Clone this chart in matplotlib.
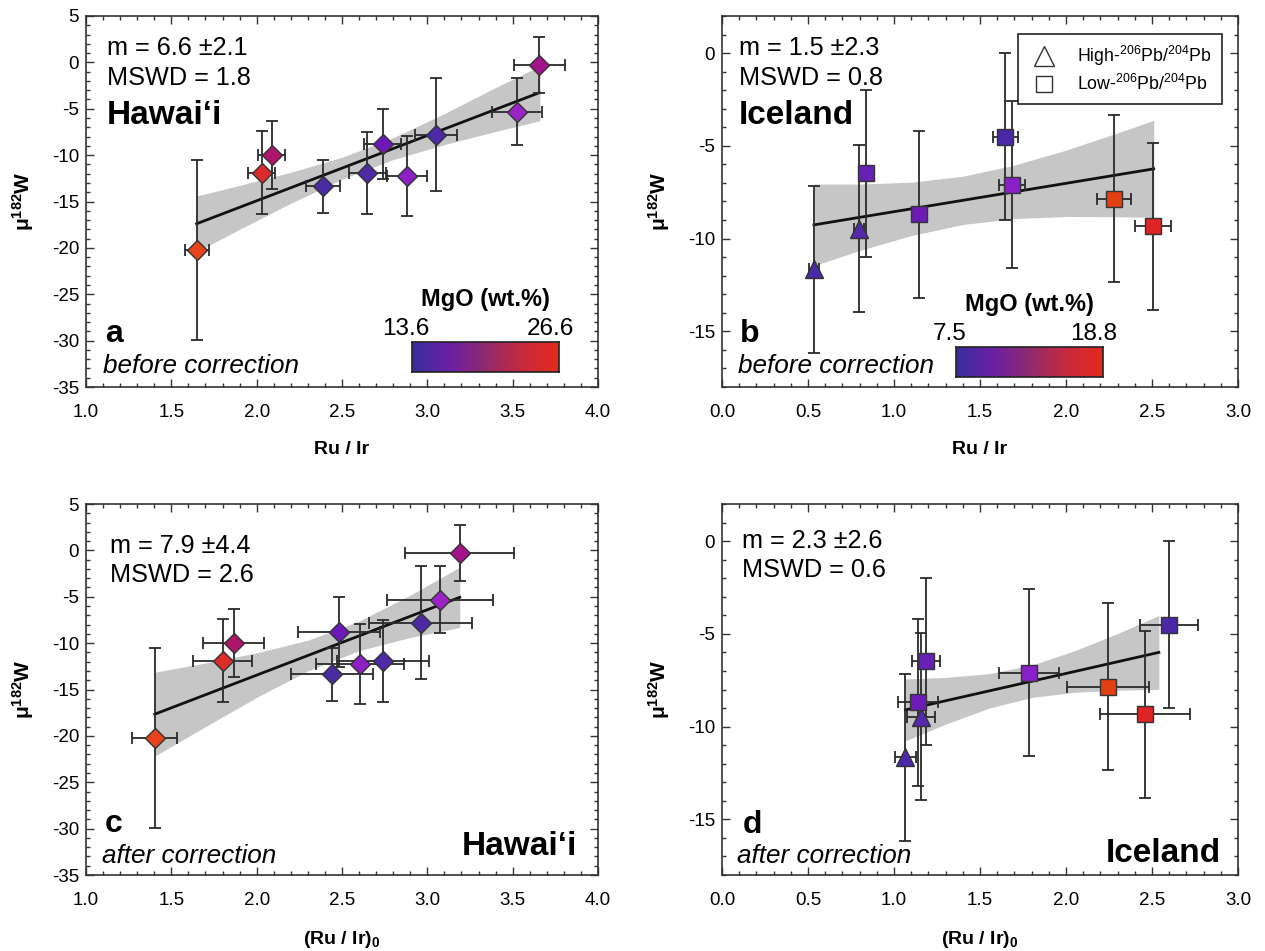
import matplotlib
matplotlib.use("Agg")
import matplotlib.pyplot as plt
from matplotlib.ticker import MultipleLocator
from matplotlib.lines import Line2D
from matplotlib.colors import LinearSegmentedColormap
import numpy as np

plt.rcParams['font.family'] = ['Liberation Sans', 'DejaVu Sans']
plt.rcParams['mathtext.fontset'] = 'custom'
plt.rcParams['mathtext.rm'] = 'Liberation Sans'
plt.rcParams['mathtext.bf'] = 'Liberation Sans:bold'
plt.rcParams['mathtext.it'] = 'Liberation Sans:italic'
plt.rcParams['axes.unicode_minus'] = False

# ---------------- data ----------------
# Hawai'i samples
hawaii_ru_ir = [1.648, 2.03, 2.088, 2.39, 2.648, 2.738, 2.879, 3.049, 3.523, 3.656]
hawaii_ru_ir_err = [0.07, 0.08, 0.08, 0.10, 0.107, 0.11, 0.117, 0.123, 0.146, 0.15]
hawaii_ru_ir0 = [1.403, 1.80, 1.865, 2.44, 2.738, 2.482, 2.605, 2.96, 3.073, 3.19]
hawaii_ru_ir0_err = [0.133, 0.173, 0.18, 0.24, 0.27, 0.24, 0.257, 0.30, 0.31, 0.32]
hawaii_mu = [-20.2, -11.9, -10.0, -13.35, -11.9, -8.8, -12.25, -7.8, -5.3, -0.3]
hawaii_mu_err = [9.7, 4.5, 3.7, 2.85, 4.4, 3.8, 4.3, 6.1, 3.6, 3.05]

# Iceland samples
iceland_group = ['High', 'High', 'Low', 'Low', 'Low', 'Low', 'Low', 'Low']
iceland_ru_ir = [0.535, 0.797, 0.84, 1.143, 1.646, 1.686, 2.28, 2.506]
iceland_ru_ir_err = [0.03, 0.03, 0.03, 0.03, 0.073, 0.073, 0.10, 0.104]
iceland_ru_ir0 = [1.066, 1.156, 1.185, 1.139, 2.60, 1.786, 2.245, 2.459]
iceland_ru_ir0_err = [0.06, 0.08, 0.083, 0.118, 0.17, 0.176, 0.24, 0.26]
iceland_mu = [-11.65, -9.48, -6.48, -8.69, -4.51, -7.1, -7.84, -9.33]
iceland_mu_err = [4.5, 4.5, 4.5, 4.5, 4.5, 4.5, 4.5, 4.5]

# regression lines and confidence envelopes
fit_a_x = [1.648, 3.656]
fit_a_y = [-17.4, -3.27]
band_a_x = [1.65, 1.9, 2.2, 2.5, 2.8, 3.1, 3.4, 3.66]
band_a_lo = [-20.4, -18.0, -15.19, -12.59, -10.48, -8.86, -7.45, -6.29]
band_a_hi = [-14.4, -13.26, -11.85, -10.23, -8.12, -5.52, -2.71, -0.4]

fit_b_x = [0.535, 2.51]
fit_b_y = [-9.26, -6.24]
band_b_x = [0.535, 0.8, 1.1, 1.4, 1.7, 2.0, 2.3, 2.51]
band_b_lo = [-11.46, -10.64, -9.84, -9.24, -8.92, -8.81, -8.82, -8.86]
band_b_hi = [-7.06, -7.06, -6.96, -6.64, -6.04, -5.23, -4.30, -3.62]

fit_c_x = [1.403, 3.19]
fit_c_y = [-17.66, -5.06]
band_c_x = [1.403, 1.7, 2.0, 2.3, 2.6, 2.9, 3.19]
band_c_lo = [-22.18, -19.00, -15.85, -12.99, -10.81, -9.39, -8.31]
band_c_hi = [-13.14, -12.14, -11.05, -9.69, -7.63, -4.83, -1.81]

fit_d_x = [1.066, 2.54]
fit_d_y = [-9.1, -6.0]
band_d_x = [1.066, 1.3, 1.55, 1.8, 2.05, 2.3, 2.54]
band_d_lo = [-10.77, -9.87, -9.01, -8.43, -8.15, -8.04, -7.99]
band_d_hi = [-7.43, -7.35, -7.15, -6.69, -5.91, -4.98, -4.01]

stats_a = ["m = 6.6 \u00b12.1", "MSWD = 1.8"]
stats_b = ["m = 1.5 \u00b12.3", "MSWD = 0.8"]
stats_c = ["m = 7.9 \u00b14.4", "MSWD = 2.6"]
stats_d = ["m = 2.3 \u00b12.6", "MSWD = 0.6"]

mgo_range_hawaii = ["13.6", "26.6"]
mgo_range_iceland = ["7.5", "18.8"]

# ---------------- styles ----------------
hawaii_colors = ['#e8431b', '#dc2b2b', '#b0156c', '#4a2ba3', '#4d2aa6',
                 '#6c19b8', '#8c20c4', '#4e29a6', '#9b22c4', '#a3138a']
iceland_colors = ['#4a2aa8', '#5529ac', '#6522b4', '#6a1cb4', '#4b28a8',
                  '#8a1ec8', '#e24012', '#de2424']
cmap = LinearSegmentedColormap.from_list(
    'mgo', ['#3a2e9e', '#6a1fa6', '#902a6e', '#c62a3e', '#e62a1c'])

W, H = 1265, 951
fig = plt.figure(figsize=(W / 100, H / 100), dpi=100)


def rect(l, t, r, b):
    return [l / W, 1 - b / H, (r - l) / W, (b - t) / H]


def ftext(x, y, s, **kw):
    fig.text(x / W, 1 - y / H, s, va='baseline', **kw)


ax_a = fig.add_axes(rect(86, 16, 598, 387))
ax_b = fig.add_axes(rect(722, 16, 1238, 387))
ax_c = fig.add_axes(rect(86, 504, 598, 875))
ax_d = fig.add_axes(rect(722, 504, 1238, 875))

EC = '#2a2a2a'


def style_axes(ax, xlim, ylim, xmajor, ymajor, xlabel):
    ax.set_xlim(*xlim)
    ax.set_ylim(*ylim)
    ax.xaxis.set_major_locator(MultipleLocator(xmajor))
    ax.xaxis.set_minor_locator(MultipleLocator(0.1))
    ax.yaxis.set_major_locator(MultipleLocator(ymajor))
    ax.yaxis.set_minor_locator(MultipleLocator(1))
    ax.tick_params(which='both', direction='in', top=True, right=True,
                   width=1.0, color='#333333')
    ax.tick_params(which='major', length=6, labelsize=13.5)
    ax.tick_params(which='minor', length=3)
    ax.tick_params(axis='x', which='major', pad=12)
    ax.tick_params(axis='y', which='major', pad=5)
    ax.xaxis.set_major_formatter(matplotlib.ticker.FormatStrFormatter('%.1f'))
    ax.yaxis.set_major_formatter(matplotlib.ticker.FormatStrFormatter('%d'))
    for sp in ax.spines.values():
        sp.set_linewidth(1.2)
        sp.set_color('#333333')
    ax.set_xlabel(xlabel, fontsize=14, fontweight='bold')
    ax.xaxis.set_label_coords(0.5, -0.145)
    ax.set_ylabel('\u03bc$^{\\mathbf{182}}$W', fontsize=15, fontweight='bold')
    ax.yaxis.set_label_coords(-0.097, 0.5)


def draw_panel(ax, x, xerr, y, yerr, colors, markers, fx, fy, bx, blo, bhi):
    ax.fill_between(bx, blo, bhi, color='#c6c6c6', lw=0, zorder=1)
    ax.plot(fx, fy, color='#111111', lw=2.0, zorder=3)
    ax.errorbar(x, y, xerr=xerr, yerr=yerr, fmt='none', ecolor=EC,
                elinewidth=1.3, capsize=4.5, capthick=1.3, zorder=4)
    for xi, yi, ci, mi in zip(x, y, colors, markers):
        sz = {'D': 10, 's': 11, '^': 13.5}[mi]
        ax.plot([xi], [yi], marker=mi, ms=sz, mfc=ci, mec='#333333',
                mew=1.0, ls='none', zorder=5)


hawaii_markers = ['D'] * len(hawaii_mu)
iceland_markers = ['^' if g == 'High' else 's' for g in iceland_group]

style_axes(ax_a, (1.0, 4.0), (-35, 5), 0.5, 5, 'Ru / Ir')
style_axes(ax_b, (0.0, 3.0), (-18, 2), 0.5, 5, 'Ru / Ir')
style_axes(ax_c, (1.0, 4.0), (-35, 5), 0.5, 5, '(Ru / Ir)$_\\mathbf{0}$')
style_axes(ax_d, (0.0, 3.0), (-18, 2), 0.5, 5, '(Ru / Ir)$_\\mathbf{0}$')

draw_panel(ax_a, hawaii_ru_ir, hawaii_ru_ir_err, hawaii_mu, hawaii_mu_err,
           hawaii_colors, hawaii_markers, fit_a_x, fit_a_y, band_a_x, band_a_lo, band_a_hi)
draw_panel(ax_b, iceland_ru_ir, iceland_ru_ir_err, iceland_mu, iceland_mu_err,
           iceland_colors, iceland_markers, fit_b_x, fit_b_y, band_b_x, band_b_lo, band_b_hi)
draw_panel(ax_c, hawaii_ru_ir0, hawaii_ru_ir0_err, hawaii_mu, hawaii_mu_err,
           hawaii_colors, hawaii_markers, fit_c_x, fit_c_y, band_c_x, band_c_lo, band_c_hi)
draw_panel(ax_d, iceland_ru_ir0, iceland_ru_ir0_err, iceland_mu, iceland_mu_err,
           iceland_colors, iceland_markers, fit_d_x, fit_d_y, band_d_x, band_d_lo, band_d_hi)

# ---------------- annotations ----------------
SF = 18.2
IF = 18.8
# panel a
ftext(107, 55, stats_a[0], fontsize=SF)
ftext(107, 85, stats_a[1], fontsize=SF)
ftext(107, 124, 'Hawai\u2018i', fontsize=24, fontweight='bold')
ftext(105, 342, 'a', fontsize=23, fontweight='bold')
ftext(103, 373, 'before correction', fontsize=IF, style='italic')
# panel b
ftext(739, 55, stats_b[0], fontsize=SF)
ftext(739, 85, stats_b[1], fontsize=SF)
ftext(739, 124, 'Iceland', fontsize=24, fontweight='bold')
ftext(740, 342, 'b', fontsize=23, fontweight='bold')
ftext(738, 373, 'before correction', fontsize=IF, style='italic')
# panel c
ftext(110, 553, stats_c[0], fontsize=SF)
ftext(110, 582, stats_c[1], fontsize=SF)
ftext(105, 832, 'c', fontsize=23, fontweight='bold')
ftext(102, 863, 'after correction', fontsize=IF, style='italic')
ftext(577, 855, 'Hawai\u2018i', fontsize=24, fontweight='bold', ha='right')
# panel d
ftext(742, 548, stats_d[0], fontsize=SF)
ftext(742, 577, stats_d[1], fontsize=SF)
ftext(743, 833, 'd', fontsize=23, fontweight='bold')
ftext(737, 863, 'after correction', fontsize=IF, style='italic')
ftext(1221, 862, 'Iceland', fontsize=24, fontweight='bold', ha='right')

# colour bars
gradient = np.linspace(0, 1, 256).reshape(1, -1)


def colorbar_box(l, t, r, b, labels):
    cax = fig.add_axes(rect(l, t, r, b))
    cax.imshow(gradient, aspect='auto', cmap=cmap, extent=(0, 1, 0, 1))
    cax.set_xticks([])
    cax.set_yticks([])
    for sp in cax.spines.values():
        sp.set_linewidth(1.2)
        sp.set_color('#222222')
    ftext((l + r) / 2, t - 36, 'MgO (wt.%)', fontsize=17, fontweight='bold', ha='center')
    ftext(l - 6, t - 7, labels[0], fontsize=17.5, ha='center')
    ftext(r - 9, t - 7, labels[1], fontsize=17.5, ha='center')


colorbar_box(412, 342, 559, 372, mgo_range_hawaii)
colorbar_box(956, 347, 1103, 377, mgo_range_iceland)

# legend (panel b)
handles = [Line2D([], [], marker='^', ms=15, mfc='none', mec='#333333', mew=1.0, ls='none'),
           Line2D([], [], marker='s', ms=11, mfc='none', mec='#333333', mew=1.0, ls='none')]
labels = ['High-$^{206}$Pb/$^{204}$Pb', 'Low-$^{206}$Pb/$^{204}$Pb']
leg = ax_b.legend(handles, labels, loc='upper right',
                  bbox_to_anchor=(1222 / W, 1 - 34 / H), bbox_transform=fig.transFigure,
                  fontsize=12.8, frameon=True, fancybox=False, framealpha=1,
                  edgecolor='#222222', borderpad=0.55, handletextpad=1.0,
                  labelspacing=0.35, borderaxespad=0, handlelength=1.8)
leg.get_frame().set_linewidth(1.2)

fig.savefig('out.png', dpi=100)
